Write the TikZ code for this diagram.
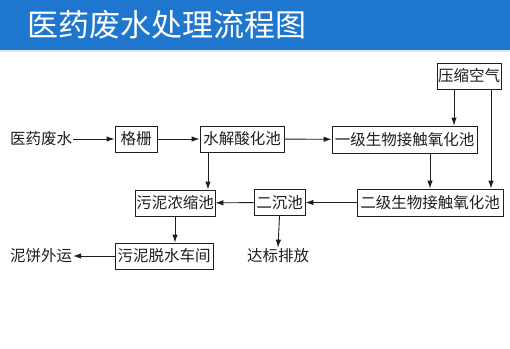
\documentclass[tikz,border=0pt]{standalone}
\usepackage{fontspec}
\newfontfamily\cjk{Noto Sans CJK SC}
\usetikzlibrary{arrows.meta,positioning}
\definecolor{headblue}{RGB}{30,118,206}
\definecolor{inkgray}{RGB}{30,30,30}
\tikzset{
    every node/.style={font=\cjk\fontsize{15.5pt}{18pt}\selectfont, text=inkgray},
    line/.style={-{Latex[length=8pt,width=5.5pt]}, line width=0.9pt, draw=inkgray},
    unit/.style={rectangle, draw=inkgray, line width=0.9pt, inner sep=1pt, minimum height=26pt, align=center},
    label/.style={inner sep=1pt}
}

\begin{document}
\begin{tikzpicture}[
    x=1pt, y=-1pt,
    % pixel grid of the reference, y pointing down
]

\useasboundingbox[fill=white] (0,0) rectangle (510,348);
\fill[headblue] (0,0) rectangle (510,50);
\fill[headblue!15] (0,50) rectangle (510,52);
\node[anchor=west, text=white, font=\cjk\fontsize{31pt}{34pt}\selectfont] (title) at (24,25) {医药废水处理流程图};

\node[label] (feed) at (41,139) {医药废水};
\node[unit, minimum width=42pt] (screen) at (136,139) {格栅};
\node[unit, minimum width=84pt] (hydro) at (242,139) {水解酸化池};
\node[unit, minimum width=145pt, minimum height=27pt] (oxA) at (404.5,139.5) {一级生物接触氧化池};
\node[unit, minimum width=58pt] (air) at (469,76) {压缩空气};
\node[unit, minimum width=146pt, minimum height=27pt] (oxB) at (430,202.5) {二级生物接触氧化池};
\node[unit, minimum width=51pt] (settle) at (279.5,202.5) {二沉池};
\node[unit, minimum width=80pt] (thick) at (175,203) {污泥浓缩池};
\node[unit, minimum width=98pt] (dewater) at (164,256) {污泥脱水车间};
\node[label] (cake) at (41,256) {泥饼外运};
\node[label] (out) at (278,256) {达标排放};

\draw[line] (feed) -- (screen);
\draw[line] (screen) -- (hydro);
\draw[line] (hydro) -- (oxA);
\draw[line] ([xshift=-15pt]air.south) -- ([xshift=-15pt]air.south |- oxA.north);
\draw[line] ([xshift=22pt]air.south) -- ([xshift=22pt]air.south |- oxB.north);
\draw[line] (oxA.south -| oxB.north) -- (oxB.north);
\draw[line] (oxB) -- (settle);
\draw[line] (settle) -- (thick);
\draw[line] (settle.south) -- (out.north);
\draw[line] ([xshift=-34pt]hydro.south) -- ([xshift=-34pt]hydro.south |- thick.north);
\draw[line] (thick.south) -- (thick.south |- dewater.north);
\draw[line] (dewater) -- (cake);

\end{tikzpicture}
\end{document}
